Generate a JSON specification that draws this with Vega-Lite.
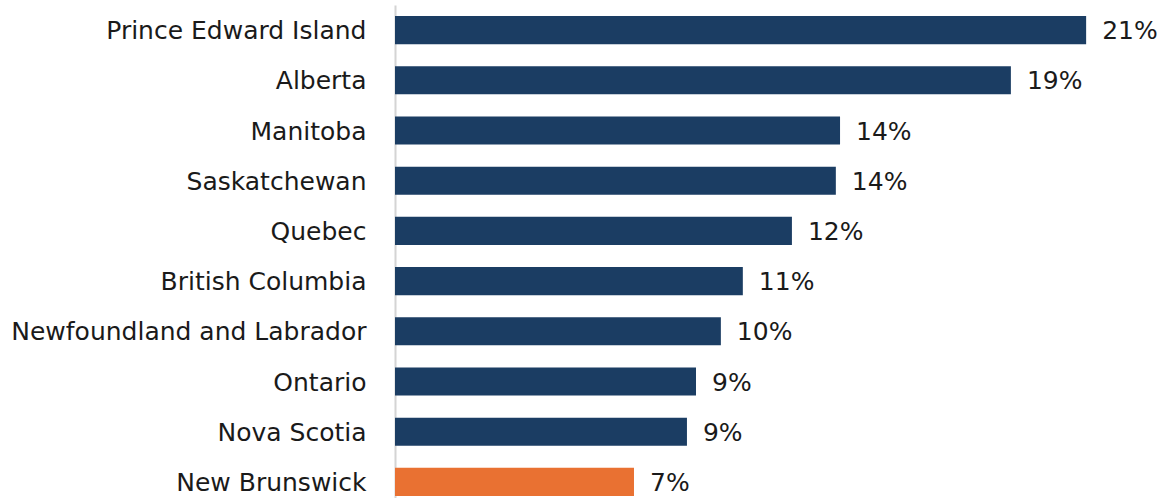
{
  "$schema": "https://vega.github.io/schema/vega-lite/v6.json",
  "autosize": "none",
  "padding": {"left": 395, "top": 5, "right": 0, "bottom": 0},
  "width": 768,
  "height": 502,
  "background": "white",
  "config": {"view": {"stroke": null}, "font": "DejaVu Sans"},
  "data": {
    "values": [
      {"province": "Prince Edward Island", "share": 0.214, "highlight": "no"},
      {"province": "Alberta", "share": 0.1907, "highlight": "no"},
      {"province": "Manitoba", "share": 0.1378, "highlight": "no"},
      {"province": "Saskatchewan", "share": 0.1365, "highlight": "no"},
      {"province": "Quebec", "share": 0.1229, "highlight": "no"},
      {"province": "British Columbia", "share": 0.1077, "highlight": "no"},
      {"province": "Newfoundland and Labrador", "share": 0.1009, "highlight": "no"},
      {"province": "Ontario", "share": 0.0932, "highlight": "no"},
      {"province": "Nova Scotia", "share": 0.0904, "highlight": "no"},
      {"province": "New Brunswick", "share": 0.074, "highlight": "yes"}
    ]
  },
  "encoding": {
    "y": {
      "field": "province",
      "type": "nominal",
      "sort": null,
      "title": null,
      "scale": {"paddingInner": 0.44, "paddingOuter": 0.22},
      "axis": {
        "ticks": false,
        "labelFontSize": 25,
        "labelColor": "#1a1a1a",
        "labelPadding": 29,
        "labelLimit": 400,
        "labelOffset": 1,
        "domainColor": "#d4d4d4",
        "domainWidth": 2
      }
    },
    "x": {
      "field": "share",
      "type": "quantitative",
      "scale": {"domain": [0, 0.2378], "nice": false, "zero": true},
      "axis": null
    }
  },
  "layer": [
    {
      "mark": {"type": "bar"},
      "encoding": {
        "color": {
          "field": "highlight",
          "type": "nominal",
          "scale": {"domain": ["no", "yes"], "range": ["#1B3D63", "#E97132"]},
          "legend": null
        }
      }
    },
    {
      "mark": {"type": "text", "align": "left", "baseline": "middle", "dx": 16, "dy": 1, "fontSize": 25, "color": "#1a1a1a"},
      "encoding": {
        "text": {"field": "share", "type": "quantitative", "format": ".0%"}
      }
    }
  ]
}
